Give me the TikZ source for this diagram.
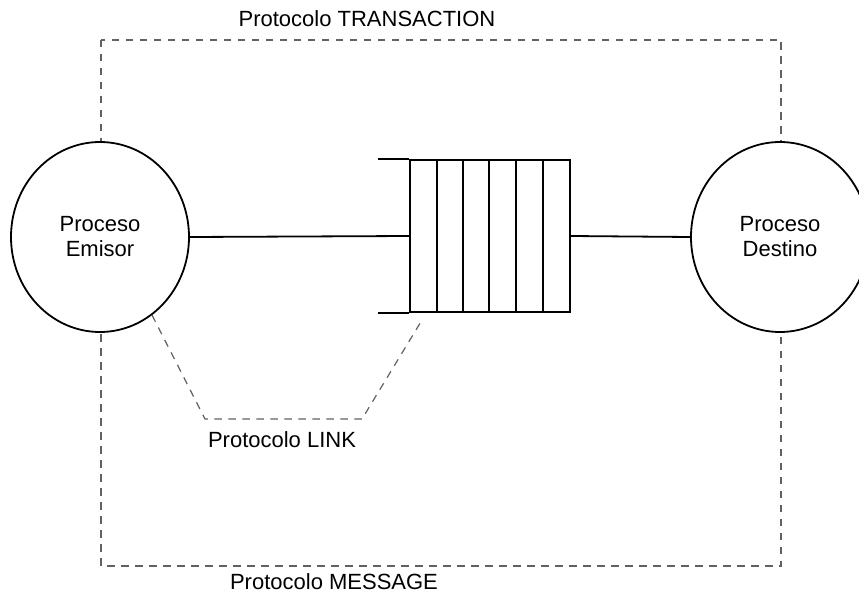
\documentclass[tikz,border=0pt]{standalone}
\usepackage{fontspec}
\setmainfont{Liberation Sans}
\usetikzlibrary{shapes.geometric}
\begin{document}
\begin{tikzpicture}[x=1pt,y=-1pt,
  solidline/.style={line width=1.8pt,black},
  dashline/.style={line width=1.2pt,draw=black!62,dash pattern=on 7.5pt off 6.5pt},
  proc/.style={ellipse,draw,line width=1.8pt,fill=white,minimum width=178pt,minimum height=190pt,inner sep=0pt,align=center,font=\fontsize{22}{25}\selectfont},
  lbl/.style={inner sep=0pt,font=\fontsize{22}{25}\selectfont}]
\useasboundingbox (0,0) rectangle (859,599);
% outer dashed frame
\coordinate (tl) at (101,40);
\coordinate (br) at (781,566);
\draw[dashline] (tl) rectangle (br);
% labels
\node[lbl] (ltrans) at (367,19) {Protocolo TRANSACTION};
\node[lbl] (lmsg) at (334,582) {Protocolo MESSAGE};
\node[lbl] (llink) at (282,440) {Protocolo LINK};
% processes
\node[proc] (emisor) at (100,237) {Proceso\\Emisor};
\node[proc] (destino) at (780,237) {Proceso\\Destino};
% queue
\node[draw,solidline,minimum width=160pt,minimum height=152pt,inner sep=0pt] (queue) at (490,236) {};
\foreach \xx in {437,463,489,516,543}{
  \draw[solidline] (\xx,160) -- (\xx,312);
}
\draw[solidline] (queue.north west) -- ++(-31,0);
\draw[solidline] (queue.south west) -- ++(-31,0);
% connectors
\draw[solidline] (emisor.east) -- (queue.west);
\draw[solidline] (queue.east) -- (destino.west);
% link dashed path
\coordinate (k1) at (152,315);
\coordinate (k2) at (205,419);
\coordinate (k3) at (362,419);
\coordinate (k4) at (422,320);
\draw[dashline] (k1) -- (k2) -- (k3) -- (k4);
\end{tikzpicture}
\end{document}
